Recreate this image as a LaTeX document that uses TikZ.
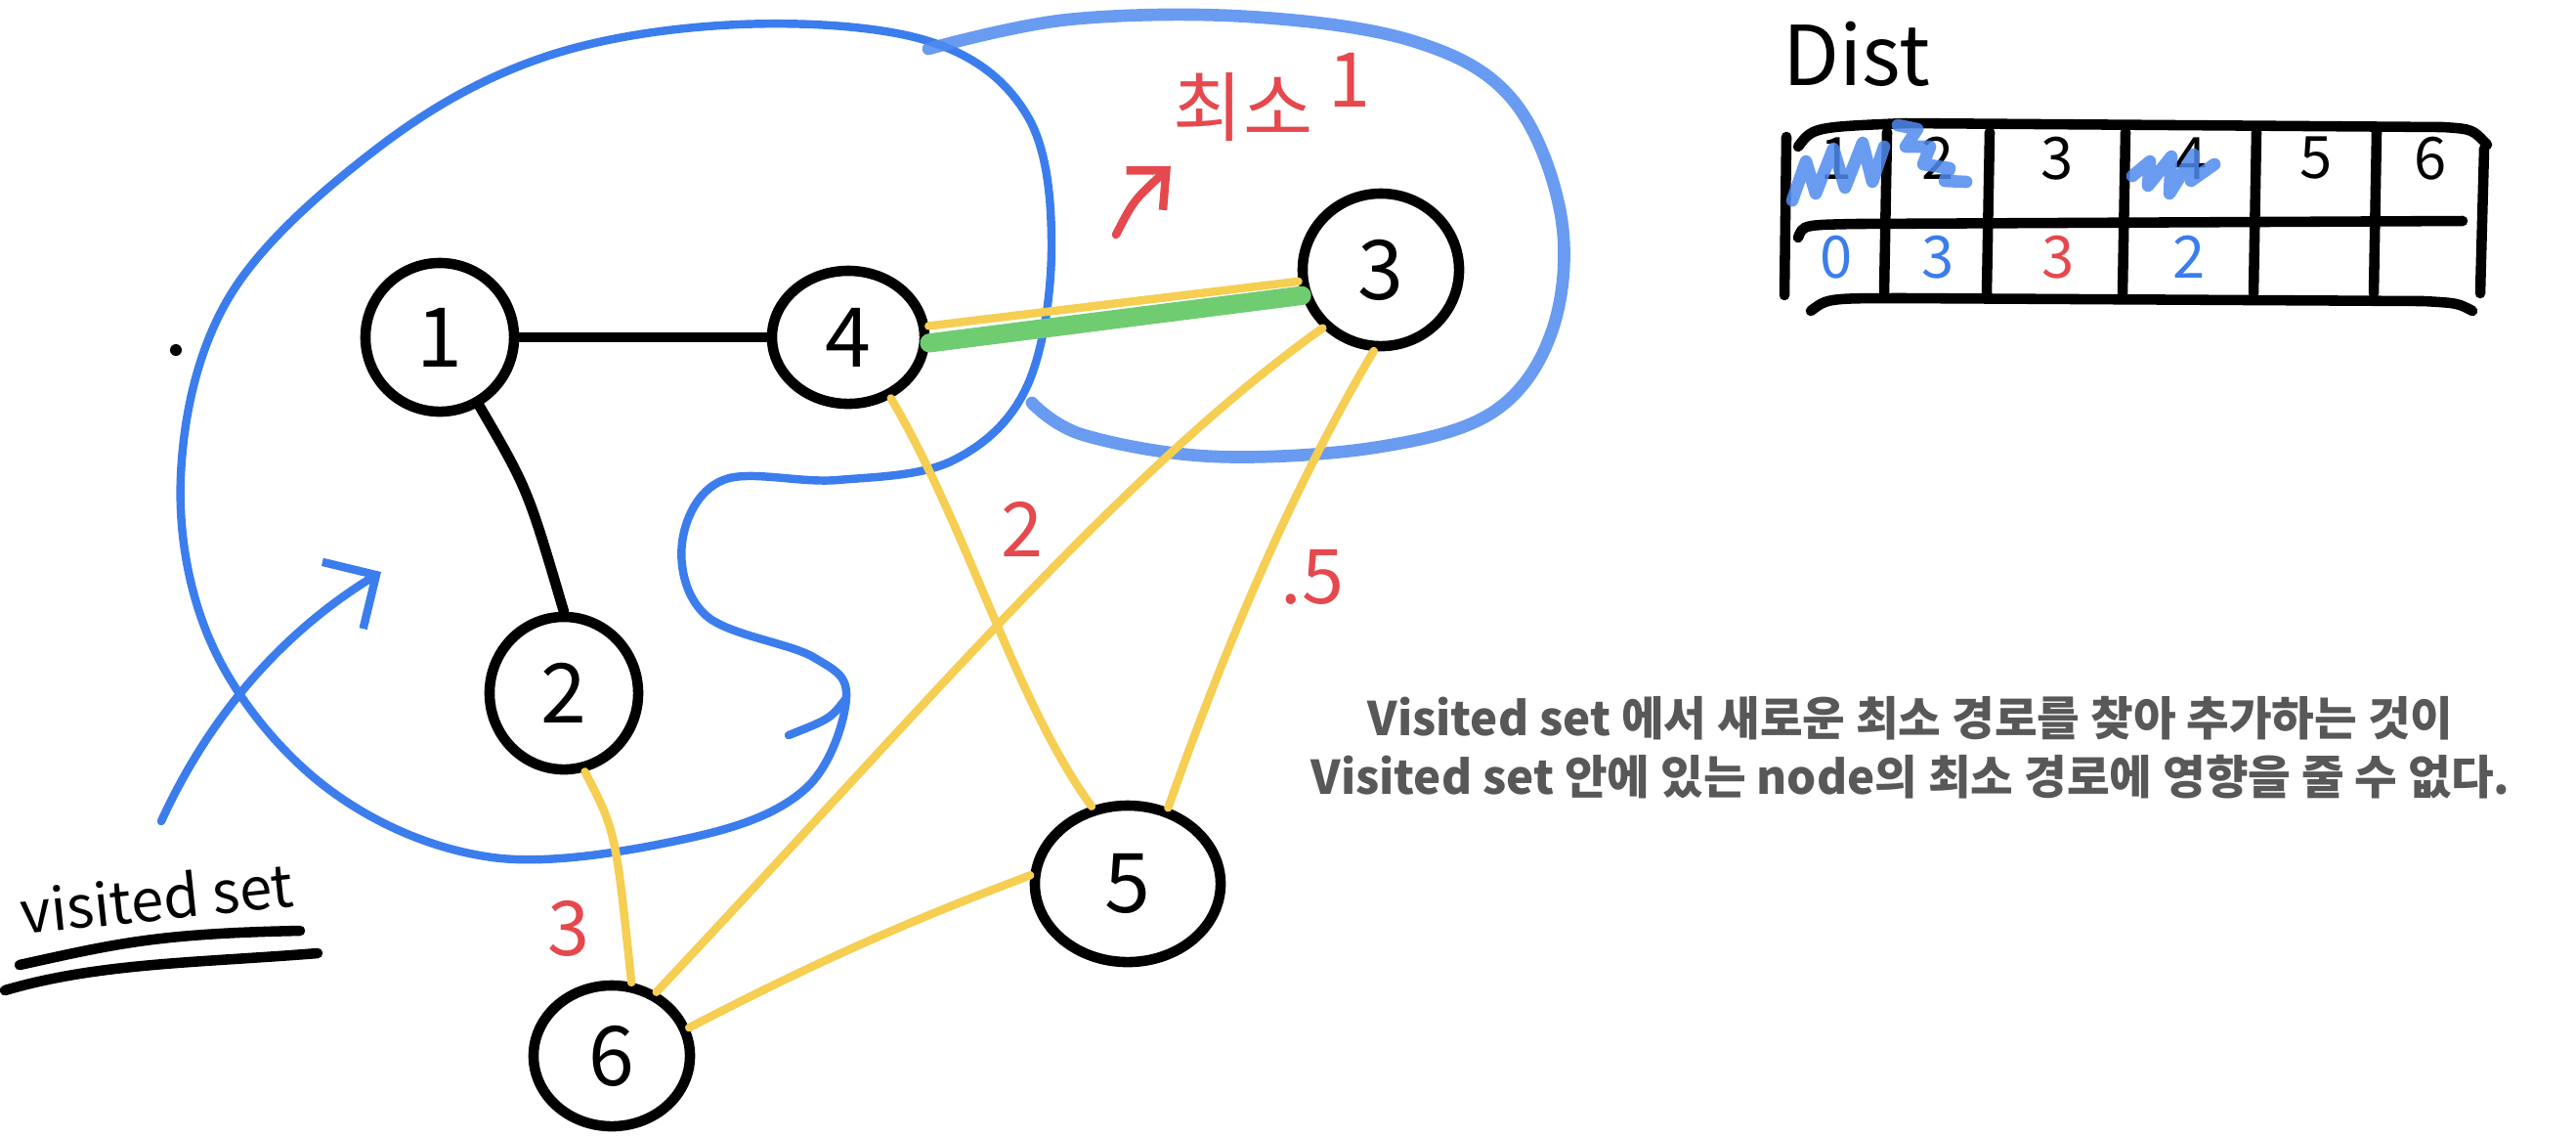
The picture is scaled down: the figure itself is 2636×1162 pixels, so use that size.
\documentclass[tikz,border=0pt]{standalone}
\usepackage{fontspec}
\setmainfont{Noto Sans CJK KR}
\usepackage{tikz}
\usetikzlibrary{shapes.geometric,arrows.meta}

\definecolor{penblue}{RGB}{59,125,237}
\definecolor{penred}{RGB}{229,72,77}
\definecolor{penyellow}{RGB}{245,206,82}
\definecolor{pengreen}{RGB}{112,204,112}
\definecolor{textgray}{RGB}{88,88,88}

\tikzset{
  vert/.style={draw, ellipse, line width=3pt, font=\fontsize{24}{28}\selectfont, inner sep=0pt},
  blackedge/.style={line width=3pt, line cap=round},
  yellowedge/.style={penyellow, line width=2.4pt, line cap=round},
  redlabel/.style={penred, font=\fontsize{22}{26}\selectfont},
  bluepen/.style={penblue, line width=2.4pt, line cap=round},
  crayon/.style={penblue!90, line width=3.6pt, line cap=round, line join=round, opacity=.85},
}

\begin{document}
\begin{tikzpicture}[x=0.01cm, y=-0.01cm]
  \useasboundingbox (0,0) rectangle (2636,1162);
  % visited set
  \draw [bluepen] plot [smooth cycle, tension=0.6] coordinates {
      (950,42) (1051,118) (1076,252) (1051,395) (975,471) (857,491)
      (740,491) (698,555) (723,630) (832,672) (866,714) (824,807)
      (706,857) (504,877) (336,807) (219,664) (185,487) (235,303)
      (387,151) (555,59) (756,25)};
  \draw [bluepen] (866,714) .. controls (850,735) .. (807,752);
  \draw [crayon] plot [smooth, tension=0.6] coordinates {
      (950,50) (1093,20) (1278,17) (1446,42) (1547,101) (1597,219)
      (1589,336) (1530,420) (1412,457) (1244,467) (1109,445) (1056,412)};
  \fill (180,358) circle [radius=0.06cm];
  % vertices
  \node [vert, minimum width=1.52cm, minimum height=1.52cm] (n1) at (450,345) {1};
  \node [vert, minimum width=1.56cm, minimum height=1.36cm] (n4) at (868,345) {4};
  \node [vert, minimum width=1.60cm, minimum height=1.56cm] (n3) at (1413,276) {3};
  \node [vert, minimum width=1.52cm, minimum height=1.56cm] (n2) at (577,709) {2};
  \node [vert, minimum width=1.90cm, minimum height=1.60cm] (n5) at (1154,904) {5};
  \node [vert, minimum width=1.60cm, minimum height=1.44cm] (n6) at (626,1080) {6};
  % edges
  \draw [blackedge] (n1.east) -- (n4.west);
  \draw [blackedge] (n1.-60) .. controls (540,500) .. (n2.north);
  \draw [yellowedge] (n4.8) -- (n3.188);
  \draw [pengreen, line width=5.5pt, line cap=round] (n4.-4) -- (n3.198);
  \draw [yellowedge] (n4.-55) .. controls (990,540) and (1040,720) .. (n5.115);
  \draw [yellowedge] (n3.-135) .. controls (1150,480) and (940,730) .. (n6.55);
  \draw [yellowedge] (n3.-95) .. controls (1310,520) and (1240,700) .. (n5.62);
  \draw [yellowedge] (n2.-75) .. controls (630,850) .. (n6.75);
  \draw [yellowedge] (n6.20) .. controls (880,960) and (990,920) .. (n5.175);
  % weights
  \node [redlabel] (w45) at (1046,541) {2};
  \node [redlabel] (w35) at (1343,590) {.5};
  \node [redlabel] (w26) at (582,950) {3};
  \node [redlabel] (minlbl) at (1272,110) {최소};
  \node [redlabel] (minval) at (1381,82) {1};
  \coordinate (redtip) at (1198,170);
  \draw [penred, line width=2.4pt, line cap=round, -{Straight Barb[length=0.3cm, width=0.55cm]}]
      (1142,240) .. controls (1160,205) .. (redtip);
  % visited set label
  \coordinate (bluetip) at (390,585);
  \draw [bluepen, -{Straight Barb[length=0.4cm, width=0.8cm]}]
      (165,840) .. controls (220,720) and (300,640) .. (bluetip);
  \node [rotate=6, font=\fontsize{17}{20}\selectfont] (vslbl) at (160,918) {visited set};
  \draw [blackedge] (20,987) .. controls (120,965) and (160,955) .. (307,952);
  \draw [blackedge] (5,1013) .. controls (100,985) and (200,985) .. (325,975);
  % dist table
  \node [font=\fontsize{24}{28}\selectfont] (dist) at (1900,55) {Dist};
  \draw [blackedge] (1840,150) .. controls (1855,130) .. (1950,126) -- (2500,130) .. controls (2530,132) .. (2545,148);
  \draw [blackedge] (1840,243) .. controls (1845,230) .. (1900,229) -- (2520,226);
  \draw [blackedge] (1853,318) .. controls (1870,305) .. (1950,305) -- (2480,308) .. controls (2515,310) .. (2530,318);
  \draw [blackedge] (1828,140) -- (1826,302);
  \draw [blackedge] (2542,152) -- (2538,300);
  \foreach \cx in {1931,2036,2175,2309,2432}
    \draw [blackedge] (\cx,135) -- (\cx-3,300);
  \foreach \lbl/\cx in {1/1879,2/1983,3/2105,4/2242,5/2370,6/2487}
    \node [font=\fontsize{17}{20}\selectfont] (h\lbl) at (\cx,162) {\lbl};
  \draw [crayon] (1834,205) -- (1848,165) -- (1858,198) -- (1876,152) -- (1888,192) -- (1906,146) -- (1916,186) -- (1928,150);
  \draw [crayon] (1942,128) -- (1962,132) -- (1950,150) -- (1975,150) -- (1968,168) -- (1995,172) -- (1990,185) -- (2012,186);
  \draw [crayon] (2182,180) -- (2200,165) -- (2198,190) -- (2222,160) -- (2220,198) -- (2245,158) -- (2242,185) -- (2266,168);
  \node [penblue, font=\fontsize{17}{20}\selectfont] (v1) at (1879,263) {0};
  \node [penblue, font=\fontsize{17}{20}\selectfont] (v2) at (1983,263) {3};
  \node [penred, font=\fontsize{17}{20}\selectfont] (v3) at (2106,263) {3};
  \node [penblue, font=\fontsize{17}{20}\selectfont] (v4) at (2240,263) {2};
  % note
  \node [textgray, align=center, font=\bfseries\fontsize{13.5}{17}\selectfont] (note) at (1955,765)
      {Visited set 에서 새로운 최소 경로를 찾아 추가하는 것이\\
       Visited set 안에 있는 node의 최소 경로에 영향을 줄 수 없다.};
\end{tikzpicture}
\end{document}
